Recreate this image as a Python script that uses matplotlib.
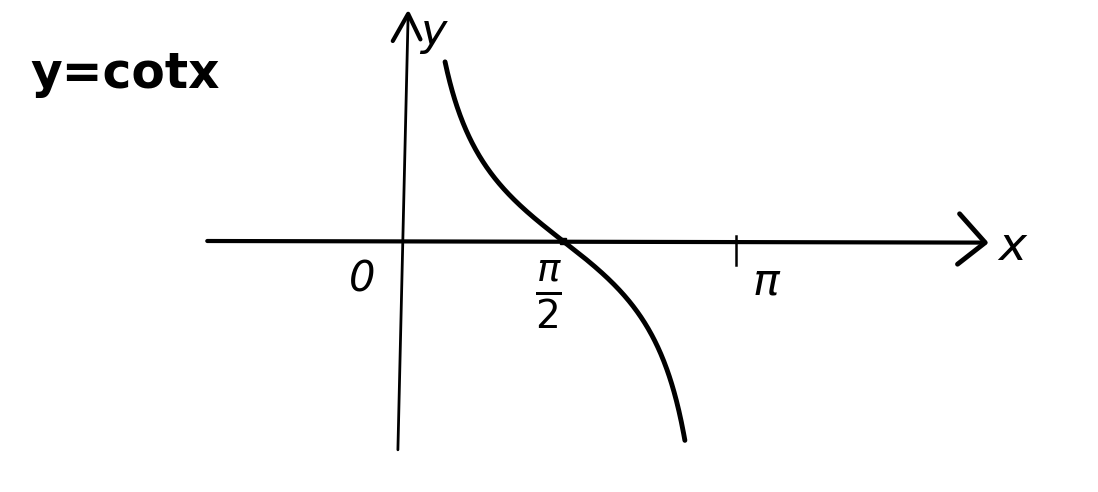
import matplotlib.pyplot as plt
import numpy as np

# sketch layout in "pixel" units of the original picture
W, H = 1098, 492
x0_px, y0_px = 402, 241        # origin
half_pi_px = 161               # pixels between 0 and pi/2
unit_px = 80                   # pixels per unit of y

# curve range (radians)
curve_start = 0.42
curve_end = 2.76

# axes extents (radians / y units)
xaxis_x = [-1.90, 5.69]
xaxis_y = [0.0, -0.02]
yaxis_x = [-0.04, 0.06]
yaxis_y = [-2.61, 2.84]

# tick position for pi (hand-drawn, a little beyond pi)
pi_tick = 3.26

labels = ["y=cotx", "0", r"$\frac{\pi}{2}$", r"$\pi$", "x", "y"]


def to_data_x(px):
    return (px - x0_px) / half_pi_px * (np.pi / 2)


def to_data_y(py):
    return (y0_px - py) / unit_px


def main():
    fig = plt.figure(figsize=(W / 100, H / 100), dpi=100)
    ax = fig.add_axes([0, 0, 1, 1])
    ax.set_xlim(to_data_x(0), to_data_x(W))
    ax.set_ylim(to_data_y(H), to_data_y(0))
    ax.axis("off")

    # axes
    ax.plot(xaxis_x, xaxis_y, color="black", lw=3, solid_capstyle="round")
    ax.plot(yaxis_x, yaxis_y, color="black", lw=2, solid_capstyle="round")

    # arrow heads (open chevrons)
    tip = (xaxis_x[1], xaxis_y[1])
    ax.plot([tip[0] - 0.25, tip[0], tip[0] - 0.27],
            [tip[1] + 0.36, tip[1], tip[1] - 0.27],
            color="black", lw=3.5, solid_capstyle="round", solid_joinstyle="round")
    tip = (yaxis_x[1], yaxis_y[1])
    ax.plot([tip[0] - 0.15, tip[0], tip[0] + 0.12],
            [tip[1] - 0.34, tip[1], tip[1] - 0.32],
            color="black", lw=3, solid_capstyle="round", solid_joinstyle="round")

    # pi tick
    ax.plot([pi_tick, pi_tick], [0.06, -0.3], color="black", lw=1.8)

    # y = cot x
    x = np.linspace(curve_start, curve_end, 400)
    y = 1 / np.tan(x)
    ax.plot(x, y, color="black", lw=3.5, solid_capstyle="round")
    ax.plot([np.pi / 2], [0], "s", color="black", ms=5)

    # texts
    ax.text(to_data_x(30), to_data_y(74), labels[0], fontsize=35,
            ha="left", va="center", fontweight="bold")
    ax.text(to_data_x(362), to_data_y(280), labels[1], fontsize=30,
            ha="center", va="center", style="italic")
    ax.text(to_data_x(548), to_data_y(295), labels[2], fontsize=40,
            ha="center", va="center")
    ax.text(to_data_x(767), to_data_y(282), labels[3], fontsize=32,
            ha="center", va="center")
    ax.text(to_data_x(1012), to_data_y(248), labels[4], fontsize=34,
            ha="center", va="center", style="italic")
    ax.text(to_data_x(433), to_data_y(32), labels[5], fontsize=32,
            ha="center", va="center", style="italic")

    fig.savefig("out.png", dpi=100, facecolor="white")


if __name__ == "__main__":
    main()
